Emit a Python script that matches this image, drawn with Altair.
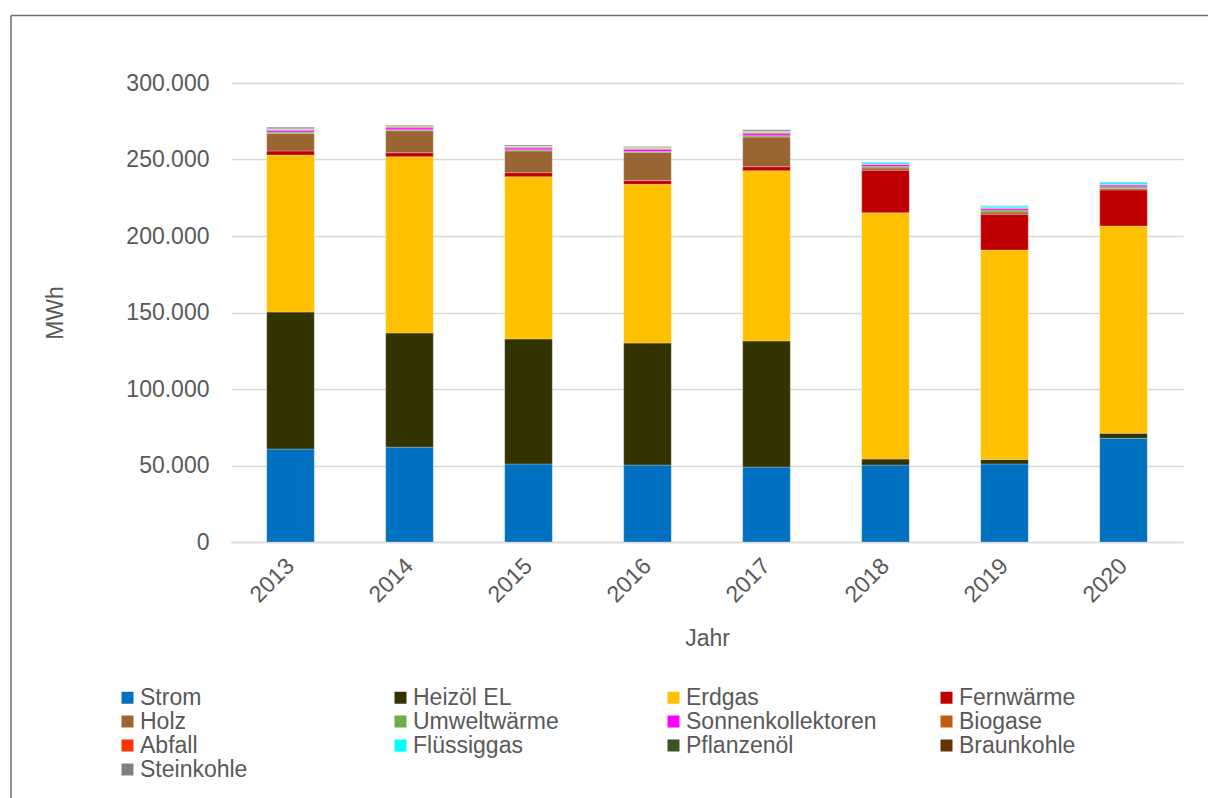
import altair as alt
import pandas as pd

years = ["2013", "2014", "2015", "2016", "2017", "2018", "2019", "2020"]
carriers = ["Strom", "Heizöl EL", "Erdgas", "Fernwärme",
            "Holz", "Umweltwärme", "Sonnenkollektoren", "Biogase",
            "Abfall", "Flüssiggas", "Pflanzenöl", "Braunkohle",
            "Steinkohle"]
colors = ["#0070C0", "#333300", "#FFC000", "#C00000",
          "#996633", "#70AD47", "#FF00FF", "#C55A11",
          "#FF3300", "#00FFFF", "#375623", "#663300",
          "#808080"]

# values in MWh
strom = [60800, 62000, 51000, 50300, 49000, 50300, 51000, 67800]
heizoel = [89500, 74600, 81700, 79700, 82400, 3900, 3000, 3200]
erdgas = [102600, 115200, 106100, 103800, 111300, 161000, 136800, 135500]
fernwaerme = [2700, 2600, 2600, 2400, 2600, 27800, 23400, 23600]
holz = [11500, 14400, 14200, 18500, 19400, 1500, 1500, 1000]
umweltwaerme = [800, 700, 700, 600, 800, 900, 1300, 1100]
sonnenkollektoren = [1200, 1200, 1200, 1300, 1300, 1300, 1100, 1100]
biogase = [300, 600, 500, 600, 800, 200, 300, 300]
abfall = [100, 200, 200, 200, 200, 100, 100, 100]
fluessiggas = [300, 300, 400, 300, 500, 1200, 1100, 1500]
pflanzenoel = [300, 200, 200, 200, 300, 0, 0, 0]
braunkohle = [200, 100, 100, 100, 100, 0, 0, 0]
steinkohle = [800, 400, 600, 500, 800, 100, 100, 100]

y_ticks = [0, 50000, 100000, 150000, 200000, 250000, 300000]

series = [strom, heizoel, erdgas, fernwaerme, holz, umweltwaerme,
          sonnenkollektoren, biogase, abfall, fluessiggas, pflanzenoel,
          braunkohle, steinkohle]

rows = []
for i, (name, vals) in enumerate(zip(carriers, series)):
    for y, v in zip(years, vals):
        if v > 0:
            rows.append({"Jahr": y, "Träger": name, "MWh": v, "idx": i})
df = pd.DataFrame(rows)

font = "Liberation Sans"
grey = "#595959"

bars = alt.Chart(df).mark_bar(
    stroke="white", strokeWidth=0.5, strokeOpacity=0.5
).encode(
    x=alt.X("Jahr:N", sort=years,
            scale=alt.Scale(paddingInner=0.6, paddingOuter=0.3),
            axis=alt.Axis(title="Jahr", labelAngle=-45, labelAlign="right",
                          labelBaseline="middle", labelPadding=20,
                          grid=False, domain=True, domainColor="#D9D9D9",
                          domainWidth=1.3, titleX=476, titleY=96,
                          titleBaseline="middle")),
    y=alt.Y("MWh:Q", stack="zero",
            scale=alt.Scale(domain=[0, 300000], nice=False),
            axis=alt.Axis(title="MWh", values=y_ticks, domain=False,
                          grid=True, labelPadding=22,
                          labelExpr="replace(format(datum.value, ',d'), ',', '.')",
                          titleX=-176, titleY=229.5, titleAngle=-90,
                          titleAlign="center", titleBaseline="middle")),
    color=alt.Color("Träger:N",
                    scale=alt.Scale(domain=carriers, range=colors),
                    legend=alt.Legend(orient="none", legendX=-115, legendY=603,
                                      direction="horizontal",
                                      columns=4, columnPadding=58,
                                      rowPadding=0, gridAlign="all",
                                      symbolType="square", symbolSize=144,
                                      symbolStrokeWidth=0, labelFontSize=23,
                                      labelColor=grey, labelFont=font,
                                      labelOffset=1, labelLimit=400,
                                      title=None)),
    order=alt.Order("idx:Q", sort="ascending"),
)

one = pd.DataFrame({"a": [0]})
frame_v = alt.Chart(one).mark_rule(color="#6d6d6d", strokeWidth=1.5).encode(
    x=alt.value(-220), y=alt.value(-67.5), y2=alt.value(717))
frame_h = alt.Chart(one).mark_rule(color="#6d6d6d", strokeWidth=1.5).encode(
    x=alt.value(-220), x2=alt.value(977), y=alt.value(-67.5))

chart = alt.layer(bars, frame_v, frame_h).properties(
    width=952, height=459,
    padding={"left": 231, "top": 83, "right": 25, "bottom": 256},
    autosize=alt.AutoSizeParams(type="none"),
).configure_view(strokeWidth=0).configure_axis(
    labelFont=font, titleFont=font, labelColor=grey, titleColor=grey,
    labelFontSize=23, titleFontSize=23, titleFontWeight="normal",
    ticks=False, gridColor="#D9D9D9", gridWidth=1.3,
)

chart.save("out.html", embed_options={"renderer": "svg", "actions": False})
